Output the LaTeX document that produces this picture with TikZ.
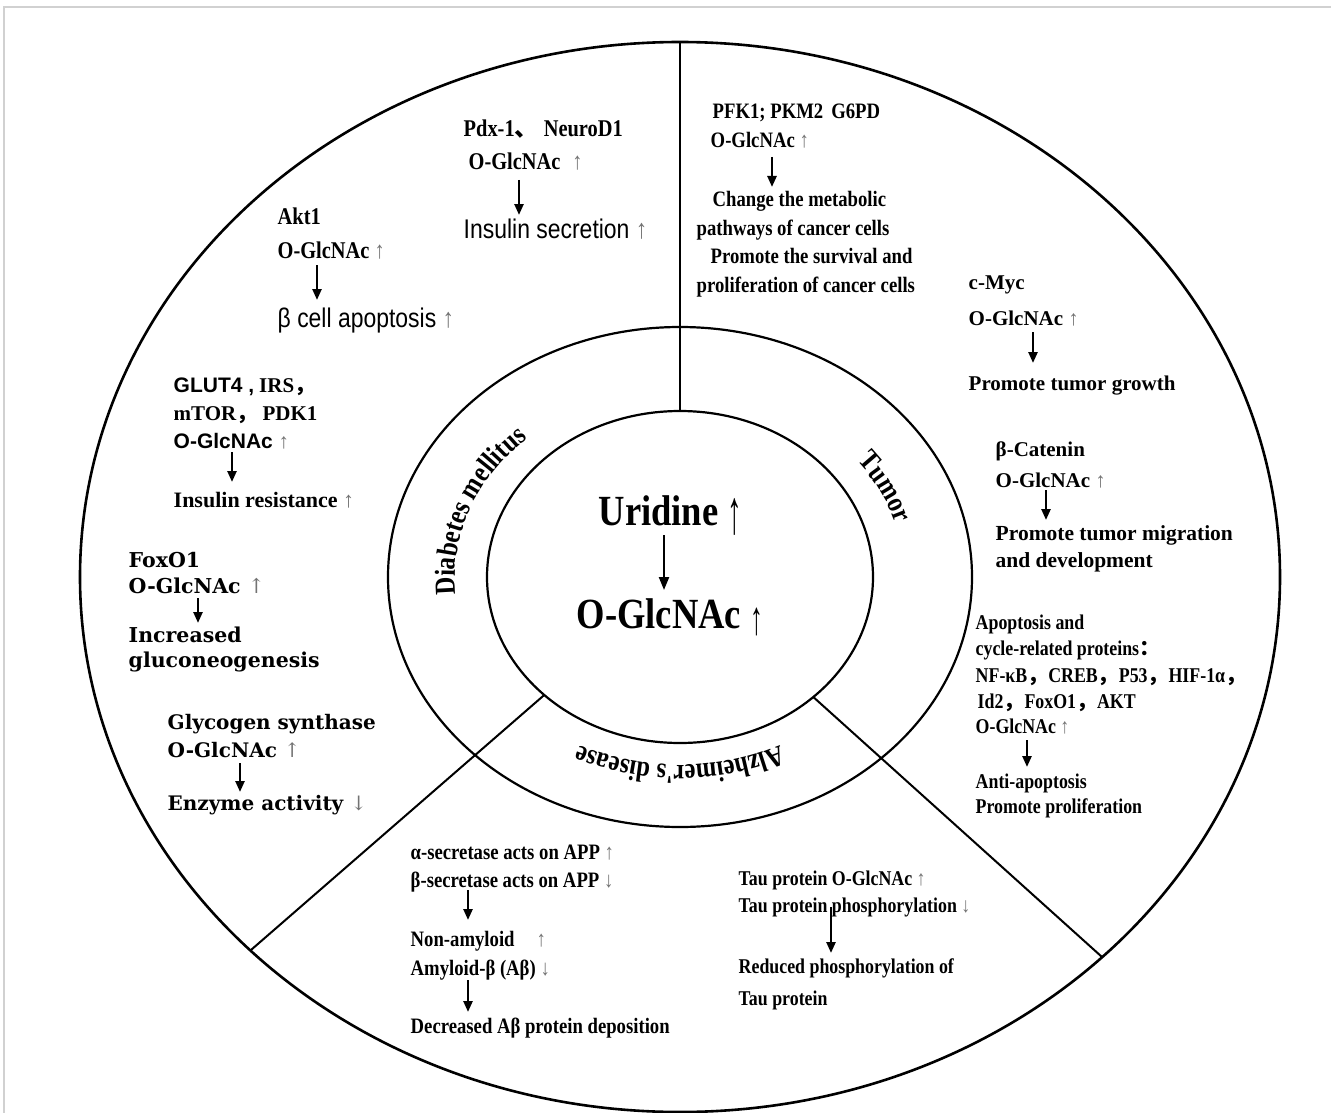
\documentclass[tikz,border=0pt]{standalone}
\usepackage{fontspec}
\setmainfont{Liberation Serif}
\newfontfamily\FnCond[FakeStretch=0.85]{Liberation Serif}
\newfontfamily\FnWide{DejaVu Serif}
\newfontfamily\FnSans[FakeStretch=0.85]{Liberation Sans}
\newfontfamily\FnSansB{Liberation Sans}
\newfontfamily\FnCJK{Noto Sans CJK SC}
\usetikzlibrary{shapes.geometric,arrows.meta,decorations.text}
\newcommand\FS[2]{\fontsize{#1}{#2}\selectfont}
\newcommand\UA{{\mdseries\color{black!55}↑}}
\newcommand\DA{{\mdseries\color{black!55}↓}}
\begin{document}
\begin{tikzpicture}[x=1pt,y=1pt,
  ring/.style={draw, ellipse, inner sep=0pt, outer sep=0pt, line width=2.2pt},
  sector/.style={line width=2pt},
  flow/.style={line width=2.4pt, -{Triangle[length=11pt,width=9pt]}},
  bigflow/.style={line width=2.2pt, -{Triangle[length=13pt,width=10pt]}},
  tc/.style={anchor=base west, inner sep=0.5pt, font=\FnCond\bfseries\FS{#1}{#1}},
  ts/.style={anchor=base west, inner sep=0.5pt, font=\rmfamily\bfseries\FS{#1}{#1}},
  tw/.style={anchor=base west, inner sep=0.5pt, font=\FnWide\bfseries\FS{#1}{#1}},
  ta/.style={anchor=base west, inner sep=0.5pt, font=\FnSans\FS{#1}{#1}},
  tab/.style={anchor=base west, inner sep=0.5pt, font=\FnSansB\bfseries\FS{#1}{#1}},
  arclabel/.style={decorate, decoration={text along path, text align=center, text={|\FnCond\bfseries\FS{29}{29}|#1}}}
]
\useasboundingbox (0,0) rectangle (1331,-1113);
\fill[white] (0,0) rectangle (1331,-1113);
\draw[black!18, line width=2pt] (4,-1113) -- (4,-7) -- (1331,-7);

% rings
\node[ring, line width=2.6pt, minimum width=1200pt, minimum height=1070pt] (outer) at (680,-577) {};
\node[ring, minimum width=584pt, minimum height=500pt] (middle) at (680,-577) {};
\node[ring, minimum width=386pt, minimum height=332pt] (inner) at (680,-577) {};

% sector lines
\draw[sector] (inner.90) -- (outer.90);
\draw[sector] (inner.221) -- (outer.221);
\draw[sector] (inner.318) -- (outer.318);

% ring labels
\path[arclabel=Diabetes mellitus] ({680+225*cos(205)},{-577+188*sin(205)}) arc[start angle=205, end angle=115, x radius=225, y radius=188];
\path[arclabel=Tumor] ({680+225*cos(75)},{-577+188*sin(75)}) arc[start angle=75, end angle=-25, x radius=225, y radius=188];
\path[arclabel=Alzheimer's disease] ({680+225*cos(320)},{-577+188*sin(320)}) arc[start angle=320, end angle=220, x radius=225, y radius=188];

% centre
\node[tc=43] (c1) at (598,-525) {Uridine \raisebox{-8pt}{\scalebox{0.8}[1.45]{\mdseries ↑}}};
\node[tc=43] (c2) at (576,-628) {O-GlcNAc \raisebox{-6pt}{\scalebox{0.7}[1.1]{\mdseries ↑}}};
\draw[bigflow] ([xshift=66pt,yshift=-10pt]c1.base west) -- ([xshift=88pt,yshift=38pt]c2.base west);

% Diabetes mellitus sector
\node[tc=24] (d1) at (463,-137) {Pdx-1{\FnCJK 、} NeuroD1};
\node[tc=24] (d2) at (468,-169) {O-GlcNAc\hspace{12pt}\UA};
\node[ta=27] (d3) at (463,-238) {Insulin secretion \UA};
\draw[flow] ([xshift=51pt,yshift=-11pt]d2.base west) -- ([xshift=56pt,yshift=23pt]d3.base west);

\node[tc=24] (d4) at (277,-224) {Akt1};
\node[tc=24] (d5) at (277,-258) {O-GlcNAc \UA};
\node[ta=27] (d6) at (277,-327) {β cell apoptosis \UA};
\draw[flow] ([xshift=40pt,yshift=-7pt]d5.base west) -- ([xshift=40pt,yshift=27pt]d6.base west);

\node[ts=21] (d7) at (173,-392) {{\FnSansB GLUT4 ,}\hspace{5pt}IRS{\FnCJK ，}};
\node[ts=21] (d8) at (173,-420) {mTOR{\FnCJK ，} PDK1};
\node[tab=21] (d9) at (173,-448) {O-GlcNAc \UA};
\node[ts=22] (d10) at (173,-507) {Insulin resistance \UA};
\draw[flow] ([xshift=59pt,yshift=-4pt]d9.base west) -- ([xshift=59pt,yshift=25pt]d10.base west);

\node[tw=20.5] (d11) at (128,-567) {FoxO1};
\node[tw=20.5] (d12) at (128,-593) {O-GlcNAc \UA};
\node[tw=20.5] (d13) at (128,-642) {Increased};
\node[tw=20.5] (d14) at (128,-667) {gluconeogenesis};
\draw[flow] ([xshift=70pt,yshift=-5pt]d12.base west) -- ([xshift=70pt,yshift=19pt]d13.base west);

\node[tw=20] (d15) at (167,-729) {Glycogen synthase};
\node[tw=20] (d16) at (167,-757) {O-GlcNAc \UA};
\node[tw=20] (d17) at (167,-810) {Enzyme activity \DA};
\draw[flow] ([xshift=73pt,yshift=-6pt]d16.base west) -- ([xshift=73pt,yshift=18pt]d17.base west);

% Tumor sector
\node[tc=22] (t1) at (712,-119) {PFK1; PKM2\hspace{8pt}G6PD};
\node[tc=22] (t2) at (710,-148) {O-GlcNAc \UA};
\node[tc=22] (t3) at (712,-207) {Change the metabolic};
\node[tc=22] (t4) at (696,-235) {pathways of cancer cells};
\node[tc=22] (t5) at (710,-263) {Promote the survival and};
\node[tc=22] (t6) at (696,-292) {proliferation of cancer cells};
\draw[flow] ([xshift=62pt,yshift=-9pt]t2.base west) -- ([xshift=60pt,yshift=20pt]t3.base west);

\node[ts=21] (t7) at (968,-289) {c-Myc};
\node[ts=21] (t8) at (968,-325) {O-GlcNAc \UA};
\node[ts=21] (t9) at (968,-390) {Promote tumor growth};
\draw[flow] ([xshift=65pt,yshift=-7pt]t8.base west) -- ([xshift=65pt,yshift=27pt]t9.base west);

\node[ts=21] (t10) at (995,-456) {β-Catenin};
\node[ts=21] (t11) at (995,-487) {O-GlcNAc \UA};
\node[ts=21.5] (t12) at (995,-540) {Promote tumor migration};
\node[ts=21.5] (t13) at (995,-567) {and development};
\draw[flow] ([xshift=51pt,yshift=-3pt]t11.base west) -- ([xshift=51pt,yshift=20pt]t12.base west);

\node[tc=21] (t14) at (975,-629) {Apoptosis and};
\node[tc=21] (t15) at (975,-655) {cycle-related proteins{\FnCJK ：}};
\node[tc=21] (t16) at (975,-682) {NF-κB{\FnCJK ，}CREB{\FnCJK ，}P53{\FnCJK ，}HIF-1α{\FnCJK ，}};
\node[tc=21] (t17) at (977,-708) {Id2{\FnCJK ，}FoxO1{\FnCJK ，}AKT};
\node[tc=21] (t18) at (975,-733) {O-GlcNAc \UA};
\node[tc=21] (t19) at (975,-788) {Anti-apoptosis};
\node[tc=21] (t20) at (975,-813) {Promote proliferation};
\draw[flow] ([xshift=52pt,yshift=-7pt]t18.base west) -- ([xshift=52pt,yshift=21pt]t19.base west);

% Alzheimer's disease sector
\node[tc=22] (a1) at (410,-859) {α-secretase acts on APP \UA};
\node[tc=22] (a2) at (410,-887) {β-secretase acts on APP \DA};
\node[tc=22] (a3) at (410,-946) {Non-amyloid\hspace{22pt}\UA};
\node[tc=22] (a4) at (410,-975) {Amyloid-β (Aβ) \DA};
\node[tc=22] (a5) at (410,-1033) {Decreased Aβ protein deposition};
\draw[flow] ([xshift=58pt,yshift=-3pt]a2.base west) -- ([xshift=58pt,yshift=26pt]a3.base west);
\draw[flow] ([xshift=58pt,yshift=-5pt]a4.base west) -- ([xshift=58pt,yshift=21pt]a5.base west);

\node[tc=21] (a6) at (738,-885) {Tau protein O-GlcNAc \UA};
\node[tc=21] (a7) at (738,-912) {Tau protein phosphorylation \DA};
\node[tc=21] (a8) at (738,-973) {Reduced phosphorylation of};
\node[tc=21] (a9) at (738,-1005) {Tau protein};
\draw[flow] ([xshift=93pt,yshift=5pt]a7.base west) -- ([xshift=93pt,yshift=20pt]a8.base west);
\end{tikzpicture}
\end{document}
